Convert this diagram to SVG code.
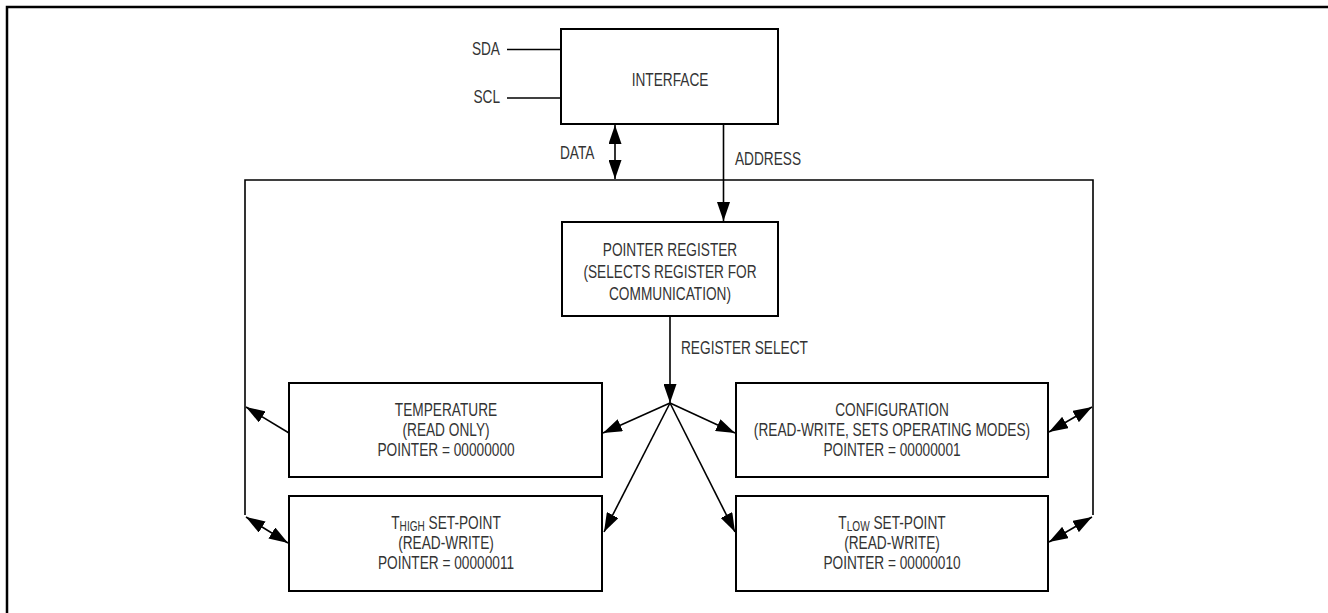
<svg xmlns="http://www.w3.org/2000/svg" width="1328" height="613" viewBox="0 0 1328 613">
<style>
.box{fill:#fff;stroke:#000;stroke-width:2}
.ln{fill:none;stroke:#000;stroke-width:1.6}
text{font-family:"Liberation Sans",Arial,Helvetica,sans-serif;font-size:19px;fill:#333}
.c{text-anchor:middle}
.e{text-anchor:end}
.sub{font-size:14px}
</style>
<defs>
<marker id="ah" viewBox="0 0 19 13" refX="19" refY="6.5" markerWidth="19" markerHeight="13" markerUnits="userSpaceOnUse" orient="auto-start-reverse">
<path d="M0,0 L19,6.5 L0,13 Z" fill="#000"/>
</marker>
</defs>
<path d="M7,613 V7 H1328" fill="none" stroke="#000" stroke-width="2.5"/>
<g id="connectors">
<line class="ln" x1="507" y1="49.5" x2="561" y2="49.5"/>
<line class="ln" x1="507" y1="98" x2="561" y2="98"/>
<line class="ln" x1="615" y1="125" x2="615" y2="179" marker-start="url(#ah)" marker-end="url(#ah)"/>
<line class="ln" x1="723.5" y1="124" x2="723.5" y2="221" marker-end="url(#ah)"/>
<polyline class="ln" points="245,515 245,180 1093,180 1093,515"/>
<line class="ln" x1="670" y1="316" x2="670" y2="403" marker-end="url(#ah)"/>
<line class="ln" x1="670" y1="403" x2="603" y2="433" marker-end="url(#ah)"/>
<line class="ln" x1="670" y1="403" x2="735" y2="433" marker-end="url(#ah)"/>
<line class="ln" x1="670" y1="403" x2="604" y2="532" marker-end="url(#ah)"/>
<line class="ln" x1="670" y1="403" x2="735" y2="532" marker-end="url(#ah)"/>
<line class="ln" x1="289" y1="433" x2="246" y2="407" marker-end="url(#ah)"/>
<line class="ln" x1="246" y1="517" x2="288" y2="543" marker-start="url(#ah)" marker-end="url(#ah)"/>
<line class="ln" x1="1049" y1="432" x2="1092" y2="407" marker-start="url(#ah)" marker-end="url(#ah)"/>
<line class="ln" x1="1049" y1="542" x2="1092" y2="517" marker-start="url(#ah)" marker-end="url(#ah)"/>
</g>
<g id="labels">
<text class="e" transform="translate(500 55) scale(0.72 1)">SDA</text>
<text class="e" transform="translate(500 103) scale(0.72 1)">SCL</text>
<text transform="translate(560 159) scale(0.72 1)">DATA</text>
<text transform="translate(735 165) scale(0.72 1)">ADDRESS</text>
<text transform="translate(681 354) scale(0.72 1)">REGISTER SELECT</text>
</g>
<g id="interface">
<rect class="box" x="561" y="29" width="217" height="95"/>
<text class="c" transform="translate(670 86) scale(0.72 1)">INTERFACE</text>
</g>
<g id="pointer-register">
<rect class="box" x="562" y="222" width="216" height="94"/>
<text class="c" transform="translate(670 256) scale(0.72 1)">POINTER REGISTER</text>
<text class="c" transform="translate(670 278) scale(0.72 1)">(SELECTS REGISTER FOR</text>
<text class="c" transform="translate(670 300) scale(0.72 1)">COMMUNICATION)</text>
</g>
<g id="temperature">
<rect class="box" x="289" y="383" width="313" height="94"/>
<text class="c" transform="translate(446 416) scale(0.72 1)">TEMPERATURE</text>
<text class="c" transform="translate(446 436) scale(0.72 1)">(READ ONLY)</text>
<text class="c" transform="translate(446 456) scale(0.72 1)">POINTER = 00000000</text>
</g>
<g id="configuration">
<rect class="box" x="736" y="383" width="312" height="94"/>
<text class="c" transform="translate(892 416) scale(0.72 1)">CONFIGURATION</text>
<text class="c" transform="translate(892 436) scale(0.72 1)">(READ-WRITE, SETS OPERATING MODES)</text>
<text class="c" transform="translate(892 456) scale(0.72 1)">POINTER = 00000001</text>
</g>
<g id="thigh">
<rect class="box" x="289" y="496" width="313" height="95"/>
<text class="c" transform="translate(446 529) scale(0.72 1)">T<tspan class="sub" dy="1.5">HIGH</tspan><tspan dy="-1.5"> SET-POINT</tspan></text>
<text class="c" transform="translate(446 549) scale(0.72 1)">(READ-WRITE)</text>
<text class="c" transform="translate(446 569) scale(0.72 1)">POINTER = 00000011</text>
</g>
<g id="tlow">
<rect class="box" x="736" y="496" width="312" height="95"/>
<text class="c" transform="translate(892 529) scale(0.72 1)">T<tspan class="sub" dy="1.5">LOW</tspan><tspan dy="-1.5"> SET-POINT</tspan></text>
<text class="c" transform="translate(892 549) scale(0.72 1)">(READ-WRITE)</text>
<text class="c" transform="translate(892 569) scale(0.72 1)">POINTER = 00000010</text>
</g>
</svg>
